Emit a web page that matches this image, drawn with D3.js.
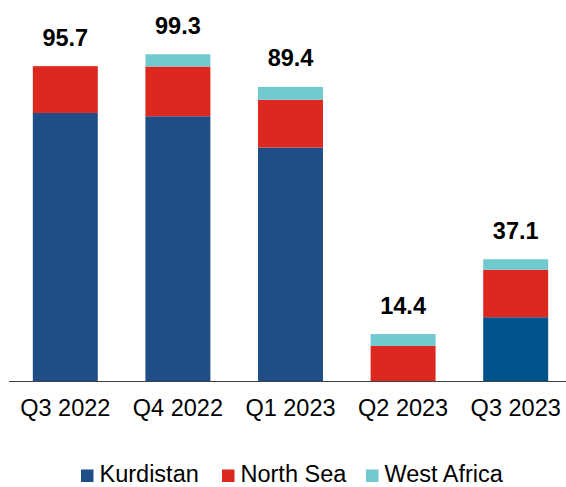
<!DOCTYPE html>
<html>
  <head>
    <meta charset="utf-8">
    <style>
      body { margin: 0; background: #fff; }
      text { font-family: Arial, "Liberation Sans", sans-serif; }
    </style>
    <script src="https://d3js.org/d3.v7.min.js"></script>
  </head>
  <body>
    <svg class="chart"></svg>
    <script>
      // data
      const quarters = ["Q3 2022", "Q4 2022", "Q1 2023", "Q2 2023", "Q3 2023"];
      const kurdistan = [81.5, 80.5, 71.0, 0, 19.5];
      const northSea = [14.2, 15.1, 14.5, 10.8, 14.4];
      const westAfrica = [0, 3.7, 3.9, 3.6, 3.2];
      const totals = ["95.7", "99.3", "89.4", "14.4", "37.1"];
      const seriesNames = ["Kurdistan", "North Sea", "West Africa"];

      const width = 566, height = 487;
      const fontSize = 23.5;
      const colors = {"Kurdistan": "#1f4e87", "North Sea": "#dc281f", "West Africa": "#70c9ce"};
      const lastKurdColor = "#00538a"; // the latest quarter is drawn in a slightly different blue

      const svg = d3.select(".chart")
        .attr("width", width)
        .attr("height", height);

      const rows = quarters.map((q, i) => ({
        quarter: q,
        "Kurdistan": kurdistan[i],
        "North Sea": northSea[i],
        "West Africa": westAfrica[i],
        total: totals[i]
      }));

      const stacked = d3.stack().keys(seriesNames)(rows);

      const x = d3.scaleBand()
        .domain(quarters)
        .range([9, 572])
        .paddingInner(0.423)
        .paddingOuter(0.2115);

      const y = d3.scaleLinear()
        .domain([0, 100])
        .range([381.5, 52]);

      // bars
      svg.append("g")
        .selectAll("g")
        .data(stacked)
        .join("g")
        .each(function(s) {
          d3.select(this).selectAll("rect")
            .data(s.filter(d => d[1] - d[0] > 0))
            .join("rect")
            .attr("x", d => x(d.data.quarter))
            .attr("width", x.bandwidth())
            .attr("y", d => y(d[1]))
            .attr("height", d => y(d[0]) - y(d[1]))
            .attr("fill", d => (s.key === "Kurdistan" && d.data.quarter === quarters[quarters.length - 1])
              ? lastKurdColor : colors[s.key]);
        });

      // totals above bars
      svg.append("g")
        .selectAll("text")
        .data(rows)
        .join("text")
        .attr("x", d => x(d.quarter) + x.bandwidth() / 2)
        .attr("y", d => y(d["Kurdistan"] + d["North Sea"] + d["West Africa"]) - 20.5)
        .attr("text-anchor", "middle")
        .attr("font-size", fontSize)
        .attr("font-weight", "bold")
        .attr("fill", "#000")
        .text(d => d.total);

      // x axis
      const xAxis = svg.append("g")
        .attr("transform", `translate(0, ${y(0)})`)
        .call(d3.axisBottom(x).tickSize(0).tickPadding(0));
      xAxis.select(".domain").remove();
      xAxis.append("line")
        .attr("x1", 9)
        .attr("x2", width)
        .attr("stroke", "#404040")
        .attr("stroke-width", 1.2);
      xAxis.selectAll(".tick text")
        .attr("y", 34)
        .attr("dy", null)
        .attr("font-size", fontSize)
        .attr("font-family", "Arial, 'Liberation Sans', sans-serif")
        .attr("fill", "#000");

      // legend (kept a touch above the bottom edge so the text box is not clipped)
      const legendX = [81, 222, 366];
      const legend = svg.append("g")
        .selectAll("g")
        .data(seriesNames)
        .join("g")
        .attr("transform", (d, i) => `translate(${legendX[i]}, 469.5)`);
      legend.append("rect")
        .attr("width", 12.5)
        .attr("height", 12.5)
        .attr("fill", d => colors[d]);
      legend.append("text")
        .attr("x", 18.5)
        .attr("y", 12.8)
        .attr("font-size", fontSize)
        .attr("fill", "#000")
        .text(d => d);
    </script>
  </body>
</html>
